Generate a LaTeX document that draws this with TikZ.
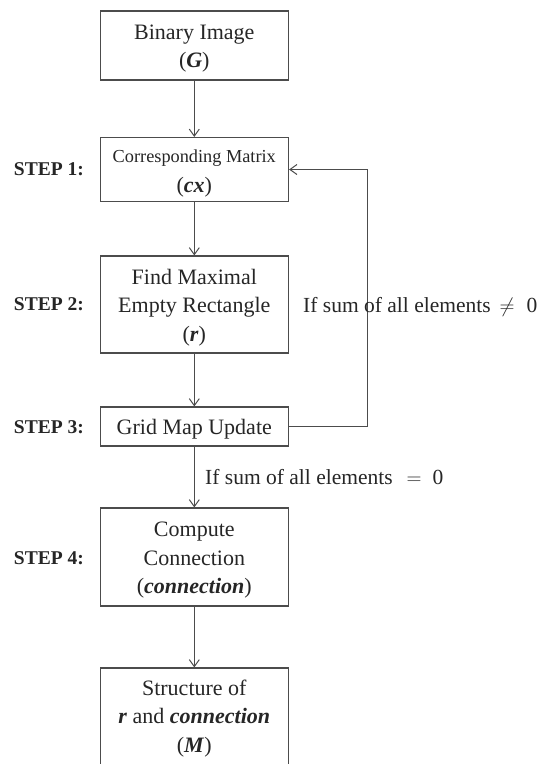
\documentclass[tikz,border=0pt]{standalone}
\usepackage{fontspec}
\setmainfont{Liberation Serif}
\usetikzlibrary{arrows.meta}
\tikzset{
  box/.style={draw=black!70, line width=1.1pt, minimum width=188.5pt, align=center,
    font=\fontsize{22}{28.5}\selectfont, text=black!85, inner sep=0pt},
  steplbl/.style={anchor=east, font=\fontsize{19.5}{21}\selectfont\bfseries, text=black!85, inner sep=0pt},
  cond/.style={anchor=base west, font=\fontsize{21.5}{23}\selectfont, text=black!85, inner sep=0pt},
  arr/.style={draw=black!70, line width=1pt, -{Straight Barb[length=7pt,width=10pt]}}
}
\newcommand{\bi}[1]{\textbf{\textit{#1}}}
\newcommand{\tstrut}{\rule{0pt}{21pt}}
\begin{document}
\begin{tikzpicture}[x=1pt,y=-1pt]
\useasboundingbox (0,0) rectangle (547,764);
\clip (0,0) rectangle (547,764);
\fill[white] (0,0) rectangle (547,764);

\node[box, minimum height=69pt] (b1) at (194.3,45.5) {\tstrut Binary Image\\(\bi{G})};
\node[box, minimum height=64pt] (b2) at (194.3,169.5) {\tstrut{\fontsize{18.3}{29}\selectfont Corresponding Matrix}\\[1.5pt](\bi{cx})};
\node[box, minimum height=97pt] (b3) at (194.3,304.5) {\tstrut Find Maximal\\Empty Rectangle\\(\bi{r})};
\node[box, minimum height=39pt] (b4) at (194.3,426.5) {\tstrut Grid Map Update};
\node[box, minimum height=98pt] (b5) at (194.3,557) {\tstrut Compute\\Connection\\(\bi{connection})};
\node[box, minimum height=120pt] (b6) at (194.3,728) {\tstrut Structure of\\\bi{r} and \bi{connection}\\(\bi{M})\rule[-30pt]{0pt}{30pt}};

\node[steplbl] (s1) at (84,169.5) {STEP 1:};
\node[steplbl] (s2) at (84,304.5) {STEP 2:};
\node[steplbl] (s3) at (84,427) {STEP 3:};
\node[steplbl] (s4) at (84,558) {STEP 4:};

\draw[arr] (b1.south) -- (b2.north);
\draw[arr] (b2.south) -- (b3.north);
\draw[arr] (b3.south) -- (b4.north);
\draw[arr] (b4.south) -- (b5.north);
\draw[arr] (b5.south) -- (b6.north);
\draw[arr] (b4.east) -- ++(78.5,0) |- (b2.east);

\node[cond] (c1) at (303,312) {If sum of all elements\hspace{9pt}$\neq$\hspace{12pt}0};
\node[cond] (c2) at (205,484) {If sum of all elements\hspace{14pt}$=$\hspace{11pt}0};
\end{tikzpicture}
\end{document}
